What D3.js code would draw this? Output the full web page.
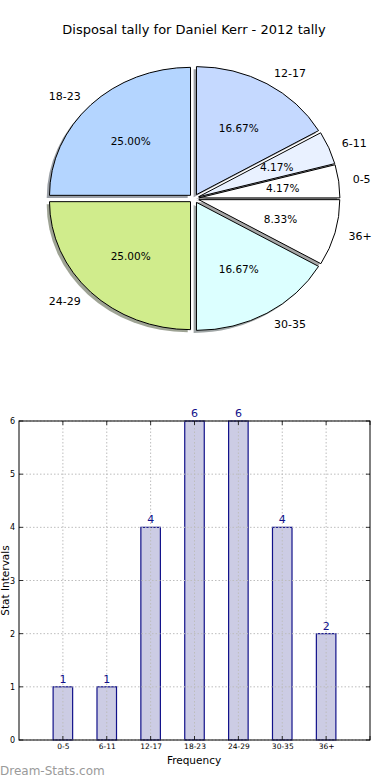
<!DOCTYPE html>
<html>
<head>
<meta charset="utf-8">
<script src="https://cdn.jsdelivr.net/npm/d3@7"></script>
<style>
html,body{margin:0;padding:0;background:#fff;}
svg{display:block;font-family:"DejaVu Sans",sans-serif;}
</style>
</head>
<body>
<svg id="chart" width="390" height="780"></svg>
<script>
const title = "Disposal tally for Daniel Kerr - 2012 tally";
const categories = ["0-5","6-11","12-17","18-23","24-29","30-35","36+"];
const counts = [1,1,4,6,6,4,2];
const pieColors = ["#ffffff","#e9f1ff","#c5d9ff","#b4d5ff","#d0ec8c","#dcffff","#ffffff"];
const yTicks = [0,1,2,3,4,5,6];
const xLabel = "Frequency";
const yLabel = "Stat Intervals";
const watermark = "Dream-Stats.com";

const svg = d3.select("#chart");

// Title
svg.append("text").attr("x",194).attr("y",34).attr("text-anchor","middle")
  .attr("font-size",13).attr("fill","#000").text(title);

// ---- Pie ----
const cx = 194, cy = 198.5, rx = 141, ry = 128, explode = 0.035;
const total = d3.sum(counts);
const pie = d3.pie().sort(null).startAngle(Math.PI/2).endAngle(Math.PI/2 - 2*Math.PI);
const arcs = pie(counts);
const arc = d3.arc().innerRadius(0).outerRadius(1);
function theta(a){ const m=(a.startAngle+a.endAngle)/2; return Math.PI/2 - m; }
function center(a){ const t=theta(a); return [cx + explode*rx*Math.cos(t), cy - explode*ry*Math.sin(t)]; }

const pg = svg.append("g");
pg.selectAll("path.shadow").data(arcs).enter().append("path")
  .attr("class","shadow")
  .attr("d",arc)
  .attr("transform",d=>{const c=center(d);return `translate(${c[0]-0.02*rx},${c[1]+0.02*ry}) scale(${rx},${ry})`;})
  .attr("fill",(d,i)=>{const c=d3.rgb(pieColors[i]);return d3.rgb(c.r*0.3,c.g*0.3,c.b*0.3);})
  .attr("fill-opacity",0.5)
  .attr("stroke","none");
pg.selectAll("path.wedge").data(arcs).enter().append("path")
  .attr("class","wedge")
  .attr("d",arc)
  .attr("transform",d=>{const c=center(d);return `translate(${c[0]},${c[1]}) scale(${rx},${ry})`;})
  .attr("fill",(d,i)=>pieColors[i])
  .attr("stroke","#000").attr("stroke-width",1)
  .attr("vector-effect","non-scaling-stroke");
arcs.forEach((d,i)=>{
  const t=theta(d), c=center(d);
  const lx=c[0]+1.1*rx*Math.cos(t), ly=c[1]-1.1*ry*Math.sin(t);
  pg.append("text").attr("x",lx).attr("y",ly).attr("dy","0.36em")
    .attr("text-anchor",Math.cos(t)>=0?"start":"end")
    .attr("font-size",11).text(categories[i]);
  const px=c[0]+0.6*rx*Math.cos(t), py=c[1]-0.6*ry*Math.sin(t);
  pg.append("text").attr("x",px).attr("y",py).attr("dy","0.36em")
    .attr("text-anchor","middle").attr("font-size",10.5)
    .text((counts[i]/total*100).toFixed(2)+"%");
});

// ---- Bar chart ----
const L=19,R=370,T=421,B=740;
const x = d3.scaleLinear().domain([-1,7]).range([L,R]);
const y = d3.scaleLinear().domain([0,6]).range([B,T]);
const bw = 0.445;
const bg = svg.append("g");

bg.selectAll("rect.bar").data(counts).enter().append("rect")
  .attr("x",(d,i)=>x(i-bw/2)).attr("width",x(bw)-x(0))
  .attr("y",d=>y(d)).attr("height",d=>y(0)-y(d))
  .attr("fill","#ccccE4").attr("stroke","#11118a").attr("stroke-width",1.2);

const grid = bg.append("g").attr("stroke","#bdbdbd").attr("stroke-width",1).attr("stroke-dasharray","1.5,2");
categories.forEach((c,i)=>{
  grid.append("line").attr("x1",x(i)).attr("x2",x(i)).attr("y1",T).attr("y2",B);
});
yTicks.forEach(v=>{
  grid.append("line").attr("x1",L).attr("x2",R).attr("y1",y(v)).attr("y2",y(v));
});

bg.append("rect").attr("x",L).attr("y",T).attr("width",R-L).attr("height",B-T)
  .attr("fill","none").attr("stroke","#000").attr("stroke-width",1);

const tk = bg.append("g").attr("stroke","#000").attr("stroke-width",0.8);
const xt = categories.map((c,i)=>i).concat([7]);
xt.forEach(v=>{
  tk.append("line").attr("x1",x(v)).attr("x2",x(v)).attr("y1",B).attr("y2",B-4);
  tk.append("line").attr("x1",x(v)).attr("x2",x(v)).attr("y1",T).attr("y2",T+4);
});
yTicks.forEach(v=>{
  tk.append("line").attr("x1",L).attr("x2",L+4).attr("y1",y(v)).attr("y2",y(v));
  tk.append("line").attr("x1",R).attr("x2",R-4).attr("y1",y(v)).attr("y2",y(v));
});

const xAxis = d3.axisBottom(x).tickValues(categories.map((c,i)=>i))
  .tickFormat(i=>categories[i]).tickSize(0).tickPadding(4);
bg.append("g").attr("transform",`translate(0,${B})`).call(xAxis)
  .call(g=>g.select(".domain").remove())
  .selectAll("text").attr("font-size",7.5).attr("font-family","DejaVu Sans").attr("fill","#000");
const yAxis = d3.axisLeft(y).tickValues(yTicks).tickFormat(d3.format("d")).tickSize(0).tickPadding(4);
bg.append("g").attr("transform",`translate(${L},0)`).call(yAxis)
  .call(g=>g.select(".domain").remove())
  .selectAll("text").attr("font-size",8).attr("font-family","DejaVu Sans").attr("fill","#000");

bg.selectAll("text.val").data(counts).enter().append("text")
  .attr("x",(d,i)=>x(i)).attr("y",d=>y(d)-4)
  .attr("text-anchor","middle").attr("font-size",11).attr("fill","#11118a")
  .text(d=>d);

svg.append("text").attr("x",194).attr("y",764).attr("text-anchor","middle")
  .attr("font-size",10.5).text(xLabel);
svg.append("text").attr("transform","translate(9,580.5) rotate(-90)")
  .attr("text-anchor","middle").attr("font-size",10.5).text(yLabel);

svg.append("text").attr("x",0).attr("y",775).attr("font-size",12)
  .attr("fill","#9a9a9a").text(watermark);
</script>
</body>
</html>
